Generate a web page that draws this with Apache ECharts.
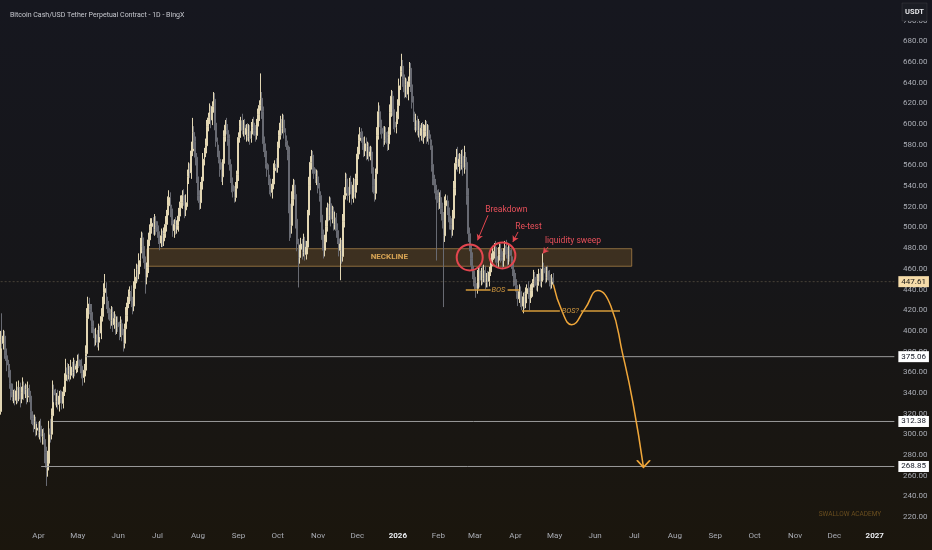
<!DOCTYPE html>
<html>
<head>
<meta charset="utf-8">
<script src="https://cdn.jsdelivr.net/npm/echarts@6/dist/echarts.min.js"></script>
<style>
html,body{margin:0;padding:0;background:#17171a;}
#chart{width:932px;height:550px;background:linear-gradient(180deg,#16171f 0%,#161619 50%,#1b160d 100%);}
</style>
</head>
<body>
<div id="chart"></div>
<script>
// ---------------- DATA ----------------
const startDate = '2025-03-03';
const axisEndDate = '2027-01-16';
const firstOpen = 322;

// Daily closes (BCH/USDT, 1D), 2025-03-03 .. 2026-04-30
const closes = [
  /* Mar 25 */ 392,388,395,381,376,367,362,349,341,336,338,333,342,337,345,334,340,347,339,343,336,344,337,322,315,309,312,304,306,
  /* Apr 25 */ 302,308,298,301,295,282,268,272,305,300,318,343,338,332,336,329,337,334,330,341,352,364,358,362,357,365,360,368,363,366,
  /* May 25 */ 372,368,366,359,355,362,378,412,426,421,418,404,398,392,396,389,401,398,414,426,437,441,428,422,417,410,418,406,412,402,408,
  /* Jun 25 */ 404,398,407,396,388,402,415,427,433,438,429,424,441,452,459,455,468,482,490,478,466,452,461,488,497,501,504,498,506,501,
  /* Jul 25 */ 496,489,485,492,487,494,503,512,521,529,518,507,497,503,498,502,511,519,524,531,526,517,524,549,557,553,574,592,583,568,549,
  /* Aug 25 */ 531,524,537,545,566,572,579,598,606,612,604,617,624,601,583,574,566,556,549,562,588,599,594,586,561,548,541,535,529,538,551,
  /* Sep 25 */ 587,598,603,594,599,590,596,588,593,586,597,601,594,589,598,609,618,625,612,581,574,562,556,547,537,534,542,555,561,558,
  /* Oct 25 */ 577,589,601,596,604,592,583,579,571,514,502,527,541,532,508,484,471,479,484,476,487,474,481,512,541,563,570,558,552,547,549,
  /* Nov 25 */ 538,531,512,493,478,486,501,519,512,523,508,516,503,509,497,489,478,484,472,506,531,547,539,531,544,537,528,541,534,547,
  /* Dec 25 */ 571,584,592,587,579,574,581,572,578,569,573,558,541,533,552,589,612,604,596,591,584,592,587,581,590,611,627,614,602,597,605,
  /* Jan 26 */ 618,637,651,656,643,631,638,629,641,654,638,621,607,598,603,594,599,589,596,587,593,599,588,594,586,579,561,547,541,536,531,
  /* Feb 26 */ 524,529,518,507,492,521,526,519,511,503,498,509,538,562,571,559,566,561,569,558,567,563,531,494,483,470,458,452,
  /* Mar 26 */ 446,441,452,458,449,456,451,458,447,452,448,457,463,469,477,481,472,466,474,479,471,468,476,482,474,469,478,473,467,459,451,
  /* Apr 26 */ 444,436,431,438,429,424,433,427,436,441,437,432,439,446,452,449,444,451,455,448,453,461,456,452,458,453,449,445,451,447.61
];
// Wick lengths above the body top / below the body bottom
const upperWick = [
  8,25,6,5,4,7,5,6,4,8,5,6,9,4,7,5,6,8,4,6,5,7,4,5,6,4,7,5,4,
  6,5,7,4,5,4,6,12,8,10,7,9,5,6,4,7,5,6,8,5,7,9,5,6,4,7,5,6,4,5,
  5,6,4,7,5,6,8,10,7,6,5,8,6,4,7,5,6,4,8,7,9,14,6,5,7,4,6,5,7,4,6,
  6,5,7,4,6,5,8,6,7,5,6,4,7,8,6,5,7,8,6,5,4,6,5,7,6,8,5,6,7,5,
  5,6,4,7,5,6,8,5,9,7,5,4,6,5,7,5,8,6,7,5,6,4,8,7,6,5,9,14,6,5,4,
  6,5,7,4,6,5,7,6,5,8,6,5,7,6,5,4,6,5,7,4,6,5,7,6,4,5,6,7,5,6,4,
  5,6,4,7,5,6,4,5,7,6,5,4,6,5,7,6,5,24,6,5,7,4,6,5,4,6,5,7,4,6,
  6,5,7,4,6,5,4,6,5,7,9,8,6,5,7,6,5,4,6,5,7,4,6,5,8,6,5,4,6,5,7,
  6,5,4,6,5,7,6,5,4,7,6,5,4,6,5,7,5,6,4,7,8,6,5,7,4,6,5,7,6,5,
  7,6,5,4,6,5,7,6,5,4,6,5,7,6,5,8,9,6,5,4,7,6,5,6,7,8,6,5,4,6,7,
  6,7,5,12,6,5,7,6,5,6,5,4,6,5,7,5,6,4,5,6,7,5,4,6,5,4,6,5,4,6,5,
  6,5,7,6,8,9,6,5,7,4,6,8,7,6,5,7,6,5,6,7,12,6,5,7,6,5,6,5,
  6,5,7,4,6,5,7,6,5,4,6,5,7,6,5,4,6,5,7,6,5,6,4,5,6,7,5,4,6,5,6,
  5,6,4,7,5,6,4,5,6,4,7,5,6,4,7,5,6,4,5,6,7,14,5,6,4,5,6,5,4,5
];
const lowerWick = [
  3,5,6,8,5,6,7,5,8,4,6,5,4,7,5,8,4,5,6,4,7,5,6,8,5,7,4,6,5,
  5,7,6,8,5,10,18,9,7,8,5,6,7,4,6,5,7,4,6,5,4,6,7,5,6,4,5,6,7,4,
  6,4,7,5,8,5,6,4,7,5,8,6,5,7,6,5,8,4,6,5,4,6,7,5,6,8,5,7,4,6,5,
  5,7,4,6,8,5,4,6,5,7,6,8,5,4,6,7,5,6,7,8,6,16,7,5,6,4,7,5,6,8,
  6,5,7,4,6,5,4,7,5,6,8,5,6,7,5,4,6,5,7,6,5,8,6,4,7,5,6,5,7,8,6,
  5,7,6,4,5,6,4,7,5,6,8,5,6,7,5,6,4,7,5,8,6,5,4,7,6,5,7,6,5,4,6,
  6,5,7,4,6,5,7,4,5,6,4,7,5,6,4,5,6,5,7,8,6,5,7,6,5,4,6,5,7,5,
  5,6,4,7,5,6,5,4,6,27,12,8,6,5,9,7,29,6,5,7,4,6,5,7,6,5,7,6,5,4,6,
  5,6,7,5,8,6,4,5,6,5,7,4,6,5,7,5,6,29,7,5,6,4,6,5,7,5,6,4,5,6,
  6,5,7,5,4,6,5,7,6,5,4,6,7,8,6,5,4,7,6,5,6,4,5,7,6,5,4,6,7,5,6,
  5,6,4,5,7,6,5,4,6,5,7,6,5,4,6,5,7,6,5,4,6,5,7,5,6,4,7,6,8,9,63,
  7,6,5,8,69,6,5,7,6,5,8,6,5,7,6,5,7,6,5,8,6,7,9,8,6,7,8,9,
  6,9,5,6,7,5,6,4,7,5,6,5,4,6,5,7,6,5,4,6,5,7,6,5,4,6,5,6,7,6,8,
  6,5,7,4,6,4,7,6,5,4,6,12,5,6,4,7,5,6,4,5,6,5,7,6,5,4,6,5,4,3
];

const lastPrice = 447.61;
const levelValues = [375.06, 312.38, 268.85];
const levelStarts = ['2025-05-07', '2025-04-12', '2025-04-03'];

const neckline = { from: '2025-06-23', to: '2026-06-29', top: 479.5, bottom: 462.5, label: 'NECKLINE' };

const projDates  = ['2026-04-30','2026-05-07','2026-05-14','2026-05-24','2026-06-03','2026-06-13','2026-06-22','2026-06-30','2026-07-08'];
const projValues = [445, 418, 406, 421, 439, 424, 378, 330, 268];

const circleDates  = ['2026-02-25', '2026-03-22'];
const circleValues = [471, 473];

const calloutTexts  = ['Breakdown', 'Re-test', 'liquidity sweep'];
const calloutAt     = [['2026-03-25', 516.6], ['2026-04-11', 500.2], ['2026-05-15', 486.7]];
const calloutFrom   = [['2026-03-11', 511.8], ['2026-04-03', 495.7], ['2026-04-26', 481.2]];
const calloutTo     = [['2026-03-03', 487.6], ['2026-03-30', 486.0], ['2026-04-22', 474.8]];

const bosTexts   = ['BOS', 'BOS?'];
const bosValues  = [439.3, 419];
const bosLabelAt = ['2026-03-19', '2026-05-13'];
const bosSegments = [
  [['2026-02-22','2026-03-13'], ['2026-03-26','2026-04-04']],
  [['2026-04-06','2026-05-05'], ['2026-05-21','2026-06-20']]
];

const MONTHS = ['Jan','Feb','Mar','Apr','May','Jun','Jul','Aug','Sep','Oct','Nov','Dec'];
const titleText = 'Bitcoin Cash/USD Tether Perpetual Contract - 1D - BingX';

// ---------------- BUILD ----------------
const FONT = 'Roboto, "Noto Sans", sans-serif';
const cats = [];
{
  const s = Date.parse(startDate + 'T00:00:00Z'), e = Date.parse(axisEndDate + 'T00:00:00Z');
  for (let t = s; t <= e; t += 86400000) cats.push(new Date(t).toISOString().slice(0, 10));
}
const ix = d => cats.indexOf(d);
const lastIdx = cats.length - 1;

const candles = closes.map((c, i) => {
  const o = i === 0 ? firstOpen : closes[i - 1];
  return [o, c, Math.min(o, c) - lowerWick[i], Math.max(o, c) + upperWick[i]];
});

const RED = '#e4464f';
const ORANGE = '#f0a73a';

const markPoints = [];
circleDates.forEach((d, i) => markPoints.push({
  coord: [ix(d), circleValues[i]], symbol: 'circle', symbolSize: 26,
  itemStyle: { color: 'rgba(0,0,0,0)', borderColor: RED, borderWidth: 2 },
  label: { show: false }
}));
calloutTexts.forEach((t, i) => markPoints.push({
  coord: [ix(calloutAt[i][0]), calloutAt[i][1]], symbol: 'circle', symbolSize: 1,
  itemStyle: { color: 'rgba(0,0,0,0)' },
  label: { show: true, position: 'inside', formatter: t, color: '#e8505a', fontSize: 8.5, fontFamily: FONT }
}));
bosTexts.forEach((t, i) => markPoints.push({
  coord: [ix(bosLabelAt[i]), bosValues[i]], symbol: 'circle', symbolSize: 1,
  itemStyle: { color: 'rgba(0,0,0,0)' },
  label: { show: true, position: 'inside', formatter: t, color: '#cf973f', fontSize: 7.5, fontStyle: 'italic', fontFamily: FONT }
}));

const markLines = [];
calloutTexts.forEach((t, i) => markLines.push([
  { coord: [ix(calloutFrom[i][0]), calloutFrom[i][1]], symbol: 'none', lineStyle: { color: RED, width: 1, type: 'solid' } },
  { coord: [ix(calloutTo[i][0]), calloutTo[i][1]], symbol: 'arrow', symbolSize: [5, 6], lineStyle: { color: RED, width: 1, type: 'solid' } }
]));
bosSegments.forEach((segs, i) => segs.forEach(s => markLines.push([
  { coord: [ix(s[0]), bosValues[i]], symbol: 'none', lineStyle: { color: '#d69b3a', width: 1.5, type: 'solid' } },
  { coord: [ix(s[1]), bosValues[i]], symbol: 'none', lineStyle: { color: '#d69b3a', width: 1.5, type: 'solid' } }
])));

const series = [{
  type: 'candlestick',
  data: candles,
  barWidth: 1.4,
  itemStyle: { color: '#e2d6b3', color0: '#686a72', borderColor: '#e2d6b3', borderColor0: '#686a72', borderWidth: 1 },
  markArea: {
    silent: true,
    itemStyle: { color: 'rgba(190,135,55,0.24)', borderColor: 'rgba(205,155,85,0.6)', borderWidth: 1 },
    label: { show: true, position: 'inside', formatter: neckline.label, color: '#d9a555', fontSize: 8, fontWeight: 'bold', fontFamily: FONT },
    data: [[{ coord: [ix(neckline.from), neckline.top] }, { coord: [ix(neckline.to), neckline.bottom] }]]
  },
  markPoint: { silent: true, animation: false, data: markPoints },
  markLine: { silent: true, animation: false, symbol: ['none', 'none'], label: { show: false }, data: markLines }
}];

// price line
series.push({
  type: 'line', data: [[0, lastPrice], [lastIdx, lastPrice]], symbol: 'none', silent: true, clip: false,
  lineStyle: { color: 'rgba(190,170,130,0.3)', width: 1, type: [2, 2] },
  endLabel: { show: true, formatter: lastPrice.toFixed(2), backgroundColor: '#f6dca9', color: '#1c1a16',
    fontSize: 8, fontFamily: FONT, padding: [2, 3, 1, 3], distance: 4 }
});
// horizontal levels
levelValues.forEach((v, i) => series.push({
  type: 'line', data: [[ix(levelStarts[i]), v], [lastIdx, v]], symbol: 'none', silent: true, clip: false,
  lineStyle: { color: '#9b9b9b', width: 1 },
  endLabel: { show: true, formatter: v.toFixed(2), backgroundColor: '#ffffff', color: '#131722',
    fontSize: 8, fontFamily: FONT, padding: [2, 3, 1, 3], distance: 4 }
}));
// projected path
series.push({
  type: 'line', smooth: 0.5, silent: true, clip: false, color: ORANGE,
  symbol: 'circle', symbolSize: 0, showSymbol: true, showAllSymbol: true,
  lineStyle: { color: ORANGE, width: 1.5 },
  data: projDates.map((d, i) => i === projDates.length - 1
    ? { value: [ix(d), projValues[i]], symbol: 'path://M0,0L10,10L20,0', symbolSize: [13, 7], symbolOffset: [0, '-50%'],
        itemStyle: { color: 'rgba(0,0,0,0)', borderColor: ORANGE, borderWidth: 1.5 } }
    : [ix(d), projValues[i]])
});

const option = {
  animation: false,
  backgroundColor: 'transparent',
  title: { text: titleText, left: 5, top: 7, textStyle: { color: '#c7c9cf', fontSize: 7, fontWeight: 'normal', fontFamily: FONT } },
  grid: { left: 0, right: 37, top: 0, bottom: 12.32, containLabel: false, outerBoundsMode: 'none' },
  xAxis: {
    type: 'category', data: cats, boundaryGap: true, offset: -12.7,
    axisLine: { show: false }, axisTick: { show: false }, splitLine: { show: false },
    axisLabel: {
      interval: (i, v) => v.slice(8) === '01', margin: 7, color: '#a9acb4', fontSize: 8, fontFamily: FONT,
      formatter: v => { const m = +v.slice(5, 7); return m === 1 ? '{y|' + v.slice(0, 4) + '}' : MONTHS[m - 1]; },
      rich: { y: { color: '#eceef2', fontSize: 8, fontWeight: 'bold', fontFamily: FONT } }
    }
  },
  yAxis: {
    type: 'value', position: 'right', min: 200, max: 720, interval: 20,
    axisLine: { show: false }, axisTick: { show: false }, splitLine: { show: false },
    axisLabel: { color: '#a9acb4', fontSize: 8, fontFamily: FONT, margin: 8,
      formatter: v => (v < 210 || v > 710) ? '' : v.toFixed(2) }
  },
  graphic: [
    { type: 'rect', z: 100, shape: { x: 902, y: 3, width: 25, height: 18 }, style: { fill: '#1b1d24', stroke: 'rgba(255,255,255,0.07)' } },
    { type: 'text', z: 101, x: 914.5, y: 12, style: { text: 'USDT', fill: '#e6e7ea', font: 'bold 7.5px Roboto', align: 'center', verticalAlign: 'middle', textAlign: 'center', textVerticalAlign: 'middle' } },
    { type: 'text', z: 101, x: 850, y: 514, style: { text: 'SWALLOW ACADEMY', fill: '#6a4e1f', font: '6.5px Roboto', align: 'center', verticalAlign: 'middle', textAlign: 'center', textVerticalAlign: 'middle' } }
  ],
  series
};

const chart = echarts.init(document.getElementById('chart'), null, { renderer: 'canvas' });
chart.setOption(option);
</script>
</body>
</html>
